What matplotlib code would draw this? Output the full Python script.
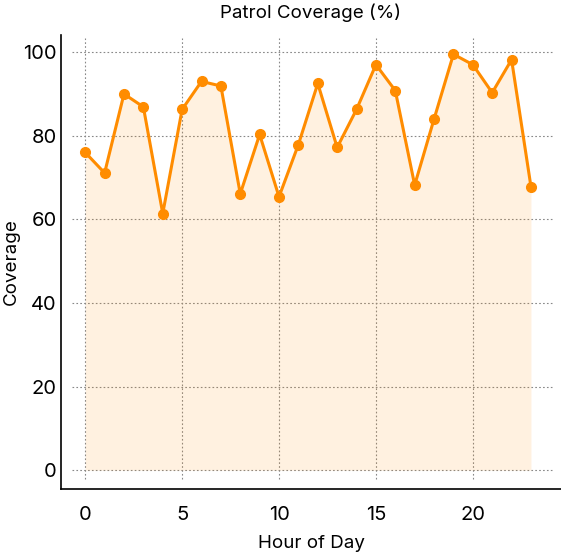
import matplotlib
matplotlib.use("Agg")
from matplotlib import pyplot as plt
import numpy as np

plt.rcParams['font.family'] = ['Inter', 'DejaVu Sans']

hours = list(range(24))
coverage = [76.0, 71.1, 90.0, 86.9, 61.4, 86.3, 93.0, 91.9, 66.1, 80.3,
            65.4, 77.9, 92.5, 77.2, 86.3, 97.0, 90.8, 68.2, 84.0, 99.5,
            97.0, 90.3, 98.2, 67.8]
x_ticks = [0, 5, 10, 15, 20]
y_ticks = [0, 20, 40, 60, 80, 100]

line_color = "#ff8c00"

W, H = 561, 552
fig = plt.figure(figsize=(W / 100, H / 100), dpi=100)
# axes frame in pixels: x 61..561, y 35..489
ax = fig.add_axes([61 / W, (H - 489) / H, (561 - 61) / W, (489 - 35) / H])

ax.set_xlim(-1.25, 24.55)
ax.set_ylim(-4.5, 104.1)

# dotted grid that stops short of the axis lines
ax.hlines(y_ticks, -0.7, 24.1, colors="#888888", linestyles=(0, (1.5, 2)),
          linewidth=0.8, zorder=0)
ax.vlines(x_ticks, -2.15, 103.4, colors="#888888", linestyles=(0, (1.5, 2)),
          linewidth=0.8, zorder=0)

ax.fill_between(hours, 0, coverage, color=line_color, alpha=0.12, linewidth=0, zorder=1)
ax.plot(hours, coverage, color=line_color, linewidth=2.2, marker="o",
        markersize=7, zorder=3)

ax.set_xticks(x_ticks)
ax.set_yticks(y_ticks)
ax.tick_params(axis="both", length=0, labelsize=14.5)
ax.tick_params(axis="x", pad=12)
ax.tick_params(axis="y", pad=3)

for side in ["top", "right"]:
    ax.spines[side].set_visible(False)
for side in ["left", "bottom"]:
    ax.spines[side].set_linewidth(1.2)

ax.set_title("Patrol Coverage (%)", fontsize=13.5, pad=12)
ax.set_xlabel("Hour of Day", fontsize=13.5, labelpad=8)
ax.set_ylabel("Coverage", fontsize=13.5)
ax.yaxis.set_label_coords(-0.083, 0.5)

fig.savefig("out.png", dpi=100)
